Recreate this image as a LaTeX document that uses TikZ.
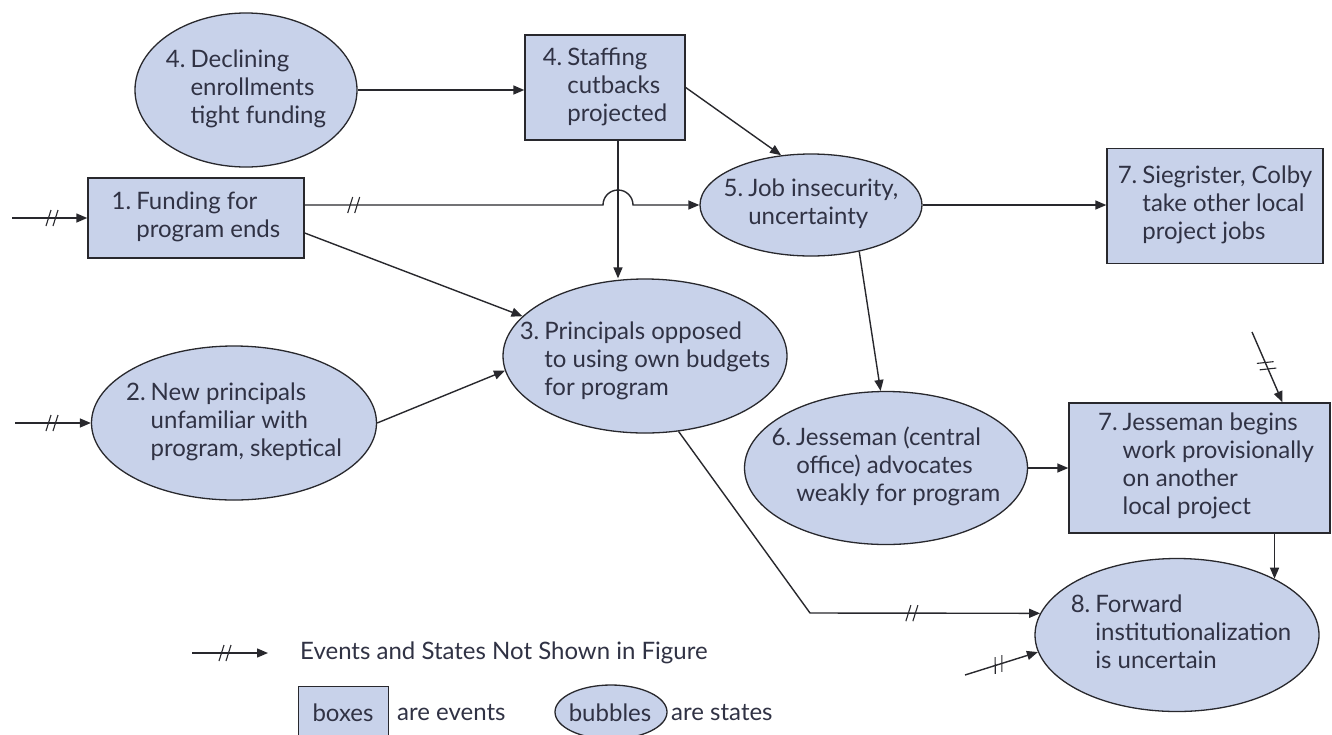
\documentclass[tikz,border=0pt]{standalone}
\usepackage{fontspec}
\setmainfont{Lato}
\usetikzlibrary{arrows.meta,shapes.geometric,decorations.markings,calc}
\definecolor{shapefill}{RGB}{200,210,234}
\definecolor{inkline}{RGB}{40,40,45}
\definecolor{inktext}{RGB}{48,50,68}
% numbered label with a hanging indent after the number
\newcommand{\numtext}[2]{\begin{tabular}{@{}l@{\hspace{5pt}}l@{}}#1&\begin{tabular}[t]{@{}l@{}}#2\end{tabular}\end{tabular}}

\begin{document}
\begin{tikzpicture}[x=1pt,y=-1pt,
  event/.style={draw=inkline, fill=shapefill, line width=1.4pt, rectangle, inner sep=0pt},
  stateshape/.style={draw=inkline, fill=shapefill, line width=1.3pt, ellipse, inner sep=0pt},
  lbl/.style={text=inktext, font=\fontsize{24}{28}\selectfont, inner sep=0pt, align=left},
  conn/.style={draw=inkline, line width=1.4pt, -{Triangle[length=11pt,width=9pt]}},
  brk/.style={postaction={decorate}, decoration={markings,
      mark=at position #1 with {\draw[-, line width=1.1pt, inkline] (-6pt,-8pt)--(-1pt,8pt) (1pt,-8pt)--(6pt,8pt);}}},
]
\path[use as bounding box] (0,0) rectangle (1332,734);
\clip (0,0) rectangle (1332,734);
\fill[white] (0,0) rectangle (1332,734);

% events (boxes) and states (bubbles)
\node[stateshape, minimum width=222, minimum height=154] (d4) at (246,90) {};
\node[event, minimum width=160, minimum height=105] (s4) at (605,87.5) {};
\node[event, minimum width=216, minimum height=80] (f1) at (196,218) {};
\node[stateshape, minimum width=222, minimum height=102] (j5) at (811,205) {};
\node[event, minimum width=216, minimum height=115] (sc7) at (1215,206) {};
\node[stateshape, minimum width=284, minimum height=154] (p3) at (645,356) {};
\node[stateshape, minimum width=285, minimum height=154] (n2) at (234,423) {};
\node[stateshape, minimum width=283, minimum height=153] (j6) at (886,468) {};
\node[event, minimum width=261, minimum height=130] (j7) at (1199.5,468) {};
\node[stateshape, minimum width=284, minimum height=153] (f8) at (1177,635) {};

% labels
\node[lbl] (d4t) at (246,90) {\numtext{4.}{Declining\\enrollments\\tight funding}};
\node[lbl] (s4t) at (605,87.5) {\numtext{4.}{Staffing\\cutbacks\\projected}};
\node[lbl] (f1t) at (196,218) {\numtext{1.}{Funding for\\program ends}};
\node[lbl] (j5t) at (811,205) {\numtext{5.}{Job insecurity,\\uncertainty}};
\node[lbl] (sc7t) at (1215,206) {\numtext{7.}{Siegrister, Colby\\take other local\\project jobs}};
\node[lbl] (p3t) at (645,362) {\numtext{3.}{Principals opposed\\to using own budgets\\for program}};
\node[lbl] (n2t) at (234,423) {\numtext{2.}{New principals\\unfamiliar with\\program, skeptical}};
\node[lbl] (j6t) at (886,468) {\numtext{6.}{Jesseman (central\\office) advocates\\weakly for program}};
\node[lbl] (j7t) at (1206,467) {\numtext{7.}{Jesseman begins\\work provisionally\\on another\\local project}};
\node[lbl] (f8t) at (1181,635) {\numtext{8.}{Forward\\institutionalization\\is uncertain}};

% connectors
\draw[conn] (d4.east) -- (d4.east -| s4.west);
\draw[conn] (s4.east) -- (j5.121);
\coordinate (sdrop) at ([xshift=13pt]s4.south);
\draw[conn] (sdrop) -- (sdrop |- p3.north);
\draw[conn, brk=49pt] ([yshift=13pt]f1.east) -- (603,205)
  arc[start angle=180, end angle=360, radius=15] -- (j5.west);
\draw[conn] ([yshift=-15pt]f1.east) -- (p3.162);
\draw[conn] (n2.east) -- (p3.186);
\draw[conn] (j5.east) -- (j5.east -| sc7.west);
\draw[conn] (j5.-44) -- (j6.94);
\draw[conn] (j6.east) -- (j7.west);
\draw[conn] (f8.30 |- j7.south) -- (f8.30);
\coordinate (bend) at (810,613);
\draw[conn, brk=326pt] (p3.-66) -- (bend) -- (f8.171);

% links from events and states outside the figure
\coordinate (in1) at (12,218);
\draw[conn, brk=40pt] (in1) -- (f1.west);
\coordinate (in2) at (15,423);
\draw[conn, brk=37pt] (in2) -- (n2.west);
\coordinate (in7) at (1252,332);
\coordinate (top7) at ([xshift=83pt]j7.north);
\draw[conn, brk=0.48] (in7) -- (top7);
\coordinate (in8) at (965,675);
\draw[conn, brk=0.46] (in8) -- (f8.187);

% legend
\coordinate (lgA) at (192,653);
\coordinate (lgB) at (268,653);
\draw[conn, brk=33pt] (lgA) -- (lgB);
\node[lbl, anchor=west] (lgtext) at (300,653) {Events and States Not Shown in Figure};
\node[event, minimum width=90, minimum height=64, anchor=north west] (lgbox) at (298,686) {};
\node[lbl] (lgboxt) at (343,713) {boxes};
\node[lbl, anchor=west] (lgev) at (397,713) {are events};
\node[stateshape, minimum width=112, minimum height=54] (lgbub) at (611,712) {};
\node[lbl] (lgbubt) at (610,713) {bubbles};
\node[lbl, anchor=west] (lgst) at (671,713) {are states};
\end{tikzpicture}
\end{document}
